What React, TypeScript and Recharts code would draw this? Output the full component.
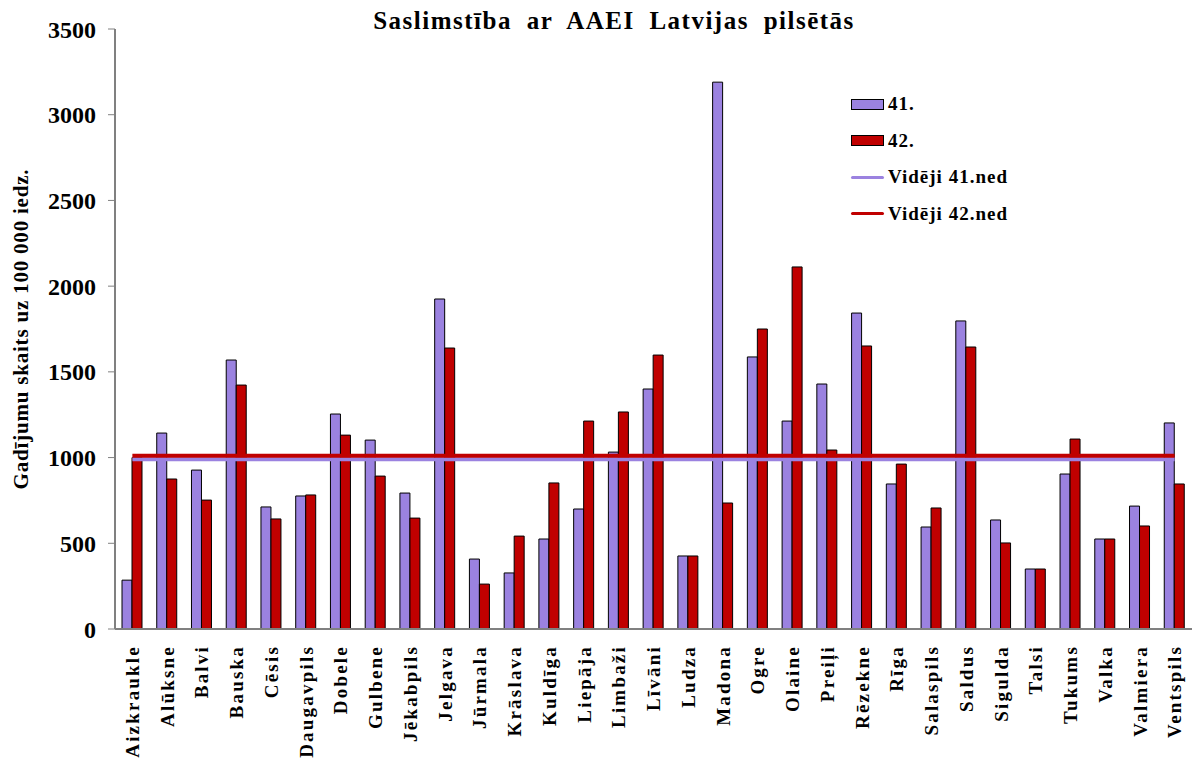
import { Bar, ComposedChart, Legend, Line, XAxis, YAxis } from "recharts"

const FONT = "'Liberation Serif', 'Times New Roman', serif"

const cities = [
  "Aizkraukle", "Alūksne", "Balvi", "Bauska", "Cēsis", "Daugavpils", "Dobele", "Gulbene",
  "Jēkabpils", "Jelgava", "Jūrmala", "Krāslava", "Kuldīga", "Liepāja", "Limbaži", "Līvāni",
  "Ludza", "Madona", "Ogre", "Olaine", "Preiļi", "Rēzekne", "Rīga", "Salaspils", "Saldus",
  "Sigulda", "Talsi", "Tukums", "Valka", "Valmiera", "Ventspils",
]

// cases per 100 000 inhabitants, week 41 and week 42
const cases41 = [
  285, 1143, 927, 1569, 712, 776, 1254, 1102, 793, 1925, 408, 327, 525, 700, 1032, 1400,
  426, 3190, 1587, 1213, 1429, 1843, 846, 595, 1797, 636, 350, 904, 525, 717, 1202,
]
const cases42 = [
  1000, 875, 752, 1423, 642, 782, 1131, 892, 647, 1639, 262, 542, 852, 1213, 1266, 1598,
  426, 735, 1750, 2112, 1044, 1651, 962, 706, 1645, 502, 350, 1108, 525, 601, 846,
]
const avg41 = 990
const avg42 = 1010

const yTicks = [0, 500, 1000, 1500, 2000, 2500, 3000, 3500]

const PURPLE = "#9b82e0"
const RED = "#c00000"

const data = cities.map((city, i) => ({
  city,
  w41: cases41[i],
  w42: cases42[i],
  avg41,
  avg42,
}))

const legendItems = [
  { label: "41.", color: PURPLE, kind: "bar" },
  { label: "42.", color: RED, kind: "bar" },
  { label: "Vidēji 41.ned", color: PURPLE, kind: "line" },
  { label: "Vidēji 42.ned", color: RED, kind: "line" },
]

function CityTick({ x, y, payload }: any) {
  return (
    <text
      x={x}
      y={y}
      transform={`rotate(-90 ${x} ${y})`}
      textAnchor="end"
      dy="0.35em"
      fontFamily={FONT}
      fontWeight="bold"
      fontSize={19}
      letterSpacing={2.2}
      fill="#000"
    >
      {payload.value}
    </text>
  )
}

function ChartLegend() {
  return (
    <div style={{ fontFamily: FONT, fontWeight: "bold", fontSize: 19, letterSpacing: 1 }}>
      {legendItems.map((item) => (
        <div key={item.label} style={{ display: "flex", alignItems: "center", height: 36.5 }}>
          {item.kind === "bar" ? (
            <div style={{ width: 31, height: 9, background: item.color, border: "1px solid #000" }} />
          ) : (
            <div style={{ width: 33, height: 3, background: item.color, borderRadius: 2 }} />
          )}
          <span style={{ marginLeft: 4 }}>{item.label}</span>
        </div>
      ))}
    </div>
  )
}

export default function App() {
  return (
    <div style={{ position: "absolute", left: 0, top: 0, width: 1194, height: 764, background: "#fff" }}>
      <div
        style={{
          position: "absolute",
          left: 0,
          width: 1228,
          top: 9,
          textAlign: "center",
          fontFamily: FONT,
          fontWeight: "bold",
          fontSize: 25,
          lineHeight: "24px",
          letterSpacing: 1.5,
          wordSpacing: 7,
          zIndex: 2,
        }}
      >
        Saslimstība ar AAEI Latvijas pilsētās
      </div>
      <ComposedChart
        width={1194}
        height={764}
        data={data}
        margin={{ top: 29, right: 2, left: 0, bottom: 0 }}
        barGap={0}
        barSize={10}
      >
        <XAxis
          dataKey="city"
          interval={0}
          height={135}
          axisLine={{ stroke: "#808080", strokeWidth: 2 }}
          tickLine={false}
          tickSize={0}
          tickMargin={16}
          tick={<CityTick />}
        />
        <YAxis
          width={115}
          domain={[0, 3500]}
          ticks={yTicks}
          interval={0}
          axisLine={{ stroke: "#808080", strokeWidth: 2 }}
          tickLine={{ stroke: "#808080" }}
          tickSize={7}
          tickMargin={12}
          tick={{ fontFamily: FONT, fontWeight: "bold", fontSize: 24, fill: "#000" }}
          label={{
            content: ({ viewBox }: any) => {
              const cx = viewBox.x + 21
              const cy = viewBox.y + viewBox.height / 2
              return (
                <text
                  x={cx}
                  y={cy}
                  transform={`rotate(-90 ${cx} ${cy})`}
                  textAnchor="middle"
                  dy="0.35em"
                  fontFamily={FONT}
                  fontWeight="bold"
                  fontSize={21}
                  letterSpacing={0.8}
                  fill="#000"
                >
                  Gadījumu skaits uz 100 000 iedz.
                </text>
              )
            },
          }}
        />
        <Bar dataKey="w41" name="41." fill={PURPLE} stroke="#000" strokeWidth={1} isAnimationActive={false} />
        <Bar dataKey="w42" name="42." fill={RED} stroke="#000" strokeWidth={1} isAnimationActive={false} />
        <Line
          dataKey="avg41"
          name="Vidēji 41.ned"
          type="linear"
          stroke={PURPLE}
          strokeWidth={4}
          dot={false}
          activeDot={false}
          isAnimationActive={false}
        />
        <Line
          dataKey="avg42"
          name="Vidēji 42.ned"
          type="linear"
          stroke={RED}
          strokeWidth={4}
          dot={false}
          activeDot={false}
          isAnimationActive={false}
        />
        <Legend
          layout="vertical"
          align="center"
          verticalAlign="middle"
          content={() => <ChartLegend />}
          wrapperStyle={{ position: "absolute", left: 851, top: 86, width: 200 }}
        />
      </ComposedChart>
    </div>
  )
}
